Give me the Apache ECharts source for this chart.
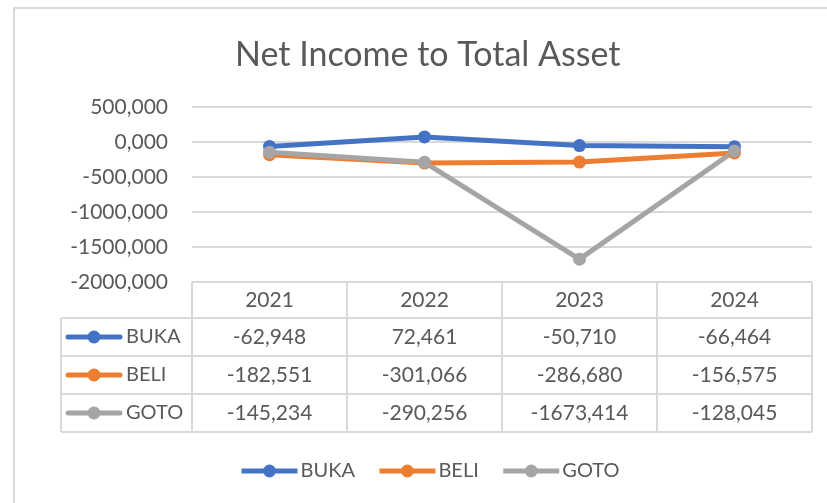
<!DOCTYPE html>
<html>
<head>
<meta charset="utf-8">
<script src="https://cdn.jsdelivr.net/npm/echarts@6/dist/echarts.min.js"></script>
<style>
    html, body { margin: 0; padding: 0; background: #fff; }
    #chart { width: 827px; height: 503px; }
</style>
</head>
<body>
<div id="chart"></div>
<script>
const years = ['2021', '2022', '2023', '2024'];
const names = ['BUKA', 'BELI', 'GOTO'];
const buka = [-62.948, 72.461, -50.710, -66.464];
const beli = [-182.551, -301.066, -286.680, -156.575];
const goto = [-145.234, -290.256, -1673.414, -128.045];
const colors = ['#4472C4', '#ED7D31', '#A5A5A5'];

const values = [buka, beli, goto];
const txt = '#595959';
const border = '#D9D9D9';
const font = 'Lato';

// Excel style numbers: 3 decimals, comma as decimal separator
const fmt = v => v.toFixed(3).replace('.', ',');

const dom = document.getElementById('chart');
const chart = echarts.init(dom, null, { renderer: 'canvas' });

const option = {
    animation: false,
    title: {
        text: 'Net Income to Total Asset',
        left: 230,
        top: 33,
        textStyle: { color: txt, fontFamily: font, fontSize: 34, fontWeight: 'normal' }
    },
    legend: {
        data: names,
        left: 234,
        top: 456,
        itemWidth: 56,
        itemHeight: 16,
        itemGap: 22,
        lineStyle: { width: 5 },
        textStyle: { color: txt, fontFamily: font, fontSize: 20, padding: [0, 0, 0, -2] }
    },
    grid: { left: 192, right: 15, top: 107, bottom: 221 },
    xAxis: {
        type: 'category',
        data: years,
        axisLine: { show: false },
        axisTick: { show: false },
        axisLabel: { show: false }
    },
    yAxis: {
        type: 'value',
        min: -2000,
        max: 500,
        interval: 500,
        axisLine: { show: false },
        axisTick: { show: false },
        axisLabel: {
            color: txt, fontFamily: font, fontSize: 21, margin: 24,
            formatter: fmt
        },
        splitLine: { lineStyle: { color: border, width: 2 } }
    },
    series: names.map((n, i) => ({
        name: n,
        type: 'line',
        data: values[i],
        symbol: 'circle',
        symbolSize: 13,
        color: colors[i],
        lineStyle: { width: 5, color: colors[i] },
        itemStyle: { color: colors[i] }
    }))
};

chart.setOption(option);

// data table under the plot, laid out from the axes
const band = chart.convertToPixel({ xAxisIndex: 0 }, 1) - chart.convertToPixel({ xAxisIndex: 0 }, 0);
const colMid = years.map((y, i) => chart.convertToPixel({ xAxisIndex: 0 }, i));
const colEdges = [colMid[0] - band / 2].concat(colMid.map(c => c + band / 2));
const tableTop = chart.convertToPixel({ yAxisIndex: 0 }, -2000);
const rowH = [36, 38, 38, 38];
const rowEdges = [tableTop];
rowH.forEach(h => rowEdges.push(rowEdges[rowEdges.length - 1] + h));
const keyLeft = 61;
const right = colEdges[colEdges.length - 1];
const bottom = rowEdges[rowEdges.length - 1];

const ls = { stroke: border, lineWidth: 2 };
let g = [];

// outer chart frame
g.push({ type: 'rect', shape: { x: 14, y: 8, width: 900, height: 600 }, style: { fill: 'none', stroke: border, lineWidth: 2 }, silent: true });

// horizontal lines
g.push({ type: 'line', shape: { x1: colEdges[0], y1: rowEdges[0], x2: right, y2: rowEdges[0] }, style: ls });
rowEdges.slice(1).forEach(y => {
    g.push({ type: 'line', shape: { x1: keyLeft, y1: y, x2: right, y2: y }, style: ls });
});
// vertical lines
g.push({ type: 'line', shape: { x1: keyLeft, y1: rowEdges[1], x2: keyLeft, y2: bottom }, style: ls });
colEdges.forEach(x => {
    g.push({ type: 'line', shape: { x1: x, y1: rowEdges[0], x2: x, y2: bottom }, style: ls });
});

// header
years.forEach((y, i) => {
    g.push({
        type: 'text',
        style: { text: y, x: colMid[i], y: (rowEdges[0] + rowEdges[1]) / 2, align: 'center', verticalAlign: 'middle', fill: txt, font: '21px ' + font }
    });
});

// rows
names.forEach((n, r) => {
    let cy = (rowEdges[r + 1] + rowEdges[r + 2]) / 2;
    g.push({ type: 'line', shape: { x1: 68, y1: cy, x2: 120, y2: cy }, style: { stroke: colors[r], lineWidth: 5, lineCap: 'round' } });
    g.push({ type: 'circle', shape: { cx: 94, cy: cy, r: 6.5 }, style: { fill: colors[r] } });
    g.push({ type: 'text', style: { text: n, x: 126, y: cy, align: 'left', verticalAlign: 'middle', fill: txt, font: '20px ' + font } });
    values[r].forEach((v, i) => {
        g.push({
            type: 'text',
            style: { text: fmt(v), x: colMid[i], y: cy, align: 'center', verticalAlign: 'middle', fill: txt, font: '21px ' + font }
        });
    });
});

chart.setOption({ graphic: g });

window.addEventListener('resize', chart.resize);
</script>
</body>
</html>
